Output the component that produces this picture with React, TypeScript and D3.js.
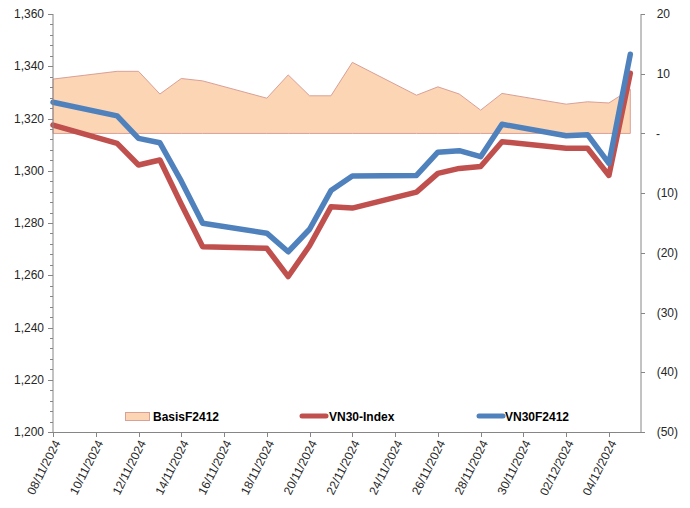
import React, { useEffect, useRef } from 'react';
import * as d3 from 'd3';

const dates = [
  '2024-11-08', '2024-11-11', '2024-11-12', '2024-11-13', '2024-11-14', '2024-11-15',
  '2024-11-18', '2024-11-19', '2024-11-20', '2024-11-21', '2024-11-22',
  '2024-11-25', '2024-11-26', '2024-11-27', '2024-11-28', '2024-11-29',
  '2024-12-02', '2024-12-03', '2024-12-04', '2024-12-05',
];
const vn30Index = [
  1317.5, 1310.5, 1302.2, 1304.1, 1287.2, 1270.9,
  1270.3, 1259.5, 1271.3, 1286.2, 1285.7,
  1291.8, 1299.0, 1300.9, 1301.6, 1311.1,
  1308.6, 1308.6, 1298.2, 1337.3,
];
const vn30F2412 = [
  1326.2, 1321.0, 1312.4, 1310.7, 1296.0, 1279.9,
  1276.1, 1269.0, 1277.6, 1292.4, 1298.0,
  1298.2, 1307.1, 1307.7, 1305.4, 1317.8,
  1313.4, 1313.8, 1302.8, 1344.6,
];
const basisF2412 = [
  9.1, 10.4, 10.4, 6.6, 9.2, 8.8,
  5.9, 9.8, 6.3, 6.3, 11.9,
  6.4, 7.8, 6.6, 3.9, 6.7,
  4.9, 5.3, 5.1, 7.4,
];
const leftTicks = [1200, 1220, 1240, 1260, 1280, 1300, 1320, 1340, 1360];
const rightTicks = [-50, -40, -30, -20, -10, 0, 10, 20];

const FONT = '"Liberation Sans", Arial, sans-serif';
const DAY = 24 * 3600 * 1000;

const App: React.FC = () => {
  const svgRef = useRef<SVGSVGElement>(null);

  useEffect(() => {
    if (!svgRef.current) return;
    const svg = d3.select(svgRef.current);
    svg.selectAll('*').remove();

    const left = 53, right = 641, top = 14, bottom = 432;
    const parse = d3.utcParse('%Y-%m-%d');
    const xs = dates.map(d => parse(d)!);
    const start = xs[0];

    const x = d3.scaleUtc()
      .domain([start, new Date(start.getTime() + 27.5 * DAY)])
      .range([left, right]);
    const yL = d3.scaleLinear().domain([1200, 1360]).range([bottom, top]);
    const yR = d3.scaleLinear().domain([-50, 20]).range([bottom, top]);

    const axisColor = '#868686';
    const textColor = '#262626';

    // Basis area (right axis)
    const areaGen = d3.area<number>()
      .x((_, i) => x(xs[i]))
      .y0(yR(0))
      .y1(d => yR(d));
    svg.append('path')
      .attr('d', areaGen(basisF2412)!)
      .attr('fill', '#FCD5B5')
      .attr('stroke', '#D9A098')
      .attr('stroke-width', 1);

    // Lines
    const lineGen = d3.line<number>()
      .x((_, i) => x(xs[i]))
      .y(d => yL(d));
    svg.append('path')
      .attr('d', lineGen(vn30Index)!)
      .attr('fill', 'none')
      .attr('stroke', '#C0504D')
      .attr('stroke-width', 5.5)
      .attr('stroke-linejoin', 'round')
      .attr('stroke-linecap', 'round');
    svg.append('path')
      .attr('d', lineGen(vn30F2412)!)
      .attr('fill', 'none')
      .attr('stroke', '#4F81BD')
      .attr('stroke-width', 5.5)
      .attr('stroke-linejoin', 'round')
      .attr('stroke-linecap', 'round');

    // Left axis
    const gL = svg.append('g');
    gL.append('line')
      .attr('x1', left).attr('x2', left).attr('y1', top).attr('y2', bottom)
      .attr('stroke', axisColor);
    const minor = d3.range(1200, 1361, 4);
    gL.selectAll('.minor').data(minor).enter().append('line')
      .attr('x1', left - 3).attr('x2', left)
      .attr('y1', d => Math.round(yL(d)) + 0.5).attr('y2', d => Math.round(yL(d)) + 0.5)
      .attr('stroke', axisColor);
    gL.selectAll('.major').data(leftTicks).enter().append('line')
      .attr('x1', left - 5).attr('x2', left)
      .attr('y1', d => Math.round(yL(d)) + 0.5).attr('y2', d => Math.round(yL(d)) + 0.5)
      .attr('stroke', axisColor);
    gL.selectAll('text').data(leftTicks).enter().append('text')
      .attr('x', 44)
      .attr('y', d => yL(d))
      .attr('dy', '0.35em')
      .attr('text-anchor', 'end')
      .attr('font-family', FONT)
      .attr('font-size', 12)
      .attr('fill', textColor)
      .text(d => d3.format(',')(d));

    // Right axis
    const gR = svg.append('g');
    gR.append('line')
      .attr('x1', right).attr('x2', right).attr('y1', top).attr('y2', bottom)
      .attr('stroke', axisColor);
    gR.selectAll('.major').data(rightTicks).enter().append('line')
      .attr('x1', right).attr('x2', right + 4)
      .attr('y1', d => Math.round(yR(d)) + 0.5).attr('y2', d => Math.round(yR(d)) + 0.5)
      .attr('stroke', axisColor);
    gR.selectAll('text').data(rightTicks).enter().append('text')
      .attr('x', d => (d < 0 ? 678 : d === 0 ? 660 : 670))
      .attr('y', d => yR(d))
      .attr('dy', '0.35em')
      .attr('text-anchor', 'end')
      .attr('font-family', FONT)
      .attr('font-size', 12)
      .attr('fill', textColor)
      .text(d => (d < 0 ? `(${-d})` : d === 0 ? '-' : d3.format(',')(d)));

    // Bottom axis
    const xTicks = d3.utcDay.range(start, new Date(start.getTime() + 27 * DAY), 2);
    const gB = svg.append('g');
    gB.append('line')
      .attr('x1', left).attr('x2', right).attr('y1', bottom + 0.5).attr('y2', bottom + 0.5)
      .attr('stroke', axisColor);
    gB.selectAll('.tick').data(xTicks).enter().append('line')
      .attr('x1', d => Math.round(x(d)) + 0.5).attr('x2', d => Math.round(x(d)) + 0.5)
      .attr('y1', bottom).attr('y2', bottom + 5)
      .attr('stroke', axisColor);
    gB.selectAll('text').data(xTicks).enter().append('text')
      .attr('transform', d => `translate(${x(d) + 4},${bottom + 9}) rotate(-63)`)
      .attr('text-anchor', 'end')
      .attr('dy', '0.35em')
      .attr('font-family', FONT)
      .attr('font-size', 12)
      .attr('fill', textColor)
      .text(d => d3.utcFormat('%d/%m/%Y')(d));

    // Legend
    const lg = svg.append('g')
      .attr('font-family', FONT)
      .attr('font-size', 12)
      .attr('font-weight', 'bold')
      .attr('fill', '#000');
    lg.append('rect')
      .attr('x', 125.5).attr('y', 412.5).attr('width', 24).attr('height', 8)
      .attr('fill', '#FCD5B5').attr('stroke', '#D9A098');
    lg.append('text').attr('x', 153).attr('y', 420.5).text('BasisF2412');
    lg.append('line')
      .attr('x1', 302).attr('x2', 326).attr('y1', 416).attr('y2', 416)
      .attr('stroke', '#C0504D').attr('stroke-width', 5).attr('stroke-linecap', 'round');
    lg.append('text').attr('x', 329).attr('y', 420.5).text('VN30-Index');
    lg.append('line')
      .attr('x1', 479).attr('x2', 503).attr('y1', 416).attr('y2', 416)
      .attr('stroke', '#4F81BD').attr('stroke-width', 5).attr('stroke-linecap', 'round');
    lg.append('text').attr('x', 505).attr('y', 420.5).text('VN30F2412');
  }, []);

  return (
    <div style={{ position: 'absolute', left: 0, top: 0, width: 690, height: 508, background: '#fff' }}>
      <svg ref={svgRef} width={690} height={508} style={{ display: 'block' }}></svg>
    </div>
  );
};

export default App;
